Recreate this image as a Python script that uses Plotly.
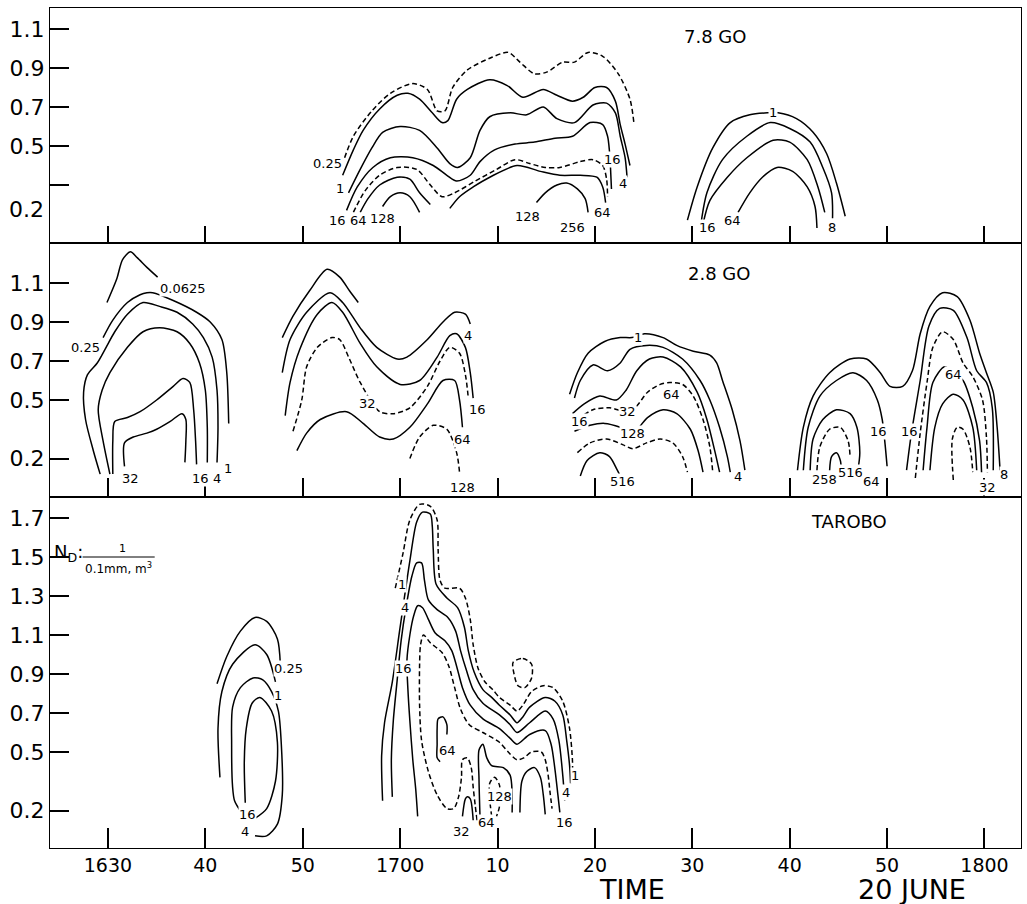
import plotly.graph_objects as go

# ---------------- axes data ----------------
# time = minutes after 16:00 (20 June); drop diameter D in mm
x_tickvals = [30, 40, 50, 60, 70, 80, 90, 100, 110, 120]
x_ticktext = ["1630", "40", "50", "1700", "10", "20", "30", "40", "50", "1800"]
y1_tickvals = [1.1, 0.9, 0.7, 0.5, 0.3]
y1_ticktext = ["1.1", "0.9", "0.7", "0.5", " "]
y2_tickvals = [1.1, 0.9, 0.7, 0.5, 0.2]
y2_ticktext = ["1.1", "0.9", "0.7", "0.5", "0.2"]
y3_tickvals = [1.7, 1.5, 1.3, 1.1, 0.9, 0.7, 0.5, 0.2]
y3_ticktext = ["1.7", "1.5", "1.3", "1.1", "0.9", "0.7", "0.5", "0.2"]

# ---------------- 7.8 GO contours (time, D) ----------------
g78_025 = [(54.3,0.44),(55.2,0.55),(57.1,0.68),(59.0,0.77),(61.3,0.82),(62.8,0.79),(63.8,0.68),(64.6,0.68),(65.4,0.80),(66.9,0.89),(69.2,0.95),(71.1,0.98),(72.3,0.93),(73.8,0.87),(75.1,0.88),(76.7,0.93),(77.9,0.93),(79.3,0.98),(80.8,0.96),(82.4,0.87),(83.6,0.74),(84.0,0.62)]
g78_1 = [(54.1,0.35),(55.2,0.48),(56.2,0.58),(57.9,0.69),(59.7,0.76),(60.8,0.77),(62.0,0.74),(63.3,0.67),(64.3,0.62),(64.9,0.63),(65.8,0.74),(66.9,0.79),(69.2,0.84),(71.0,0.81),(72.6,0.75),(74.7,0.79),(76.1,0.76),(77.7,0.73),(78.8,0.75),(80.0,0.80),(81.2,0.80),(82.1,0.73),(82.6,0.61),(83.1,0.51),(83.6,0.40)]
g78_4 = [(54.7,0.26),(55.9,0.38),(57.1,0.49),(58.2,0.57),(60.0,0.60),(62.0,0.58),(63.8,0.49),(65.1,0.41),(65.9,0.39),(67.2,0.44),(68.2,0.58),(69.2,0.65),(71.3,0.67),(73.0,0.66),(74.7,0.70),(76.1,0.64),(77.9,0.62),(79.8,0.71),(81.2,0.72),(82.1,0.67),(82.6,0.55),(83.1,0.44),(83.3,0.34)]
g78_16 = [(54.5,0.17),(55.6,0.29),(57.2,0.39),(59.0,0.44),(61.3,0.44),(63.4,0.40),(64.8,0.35),(65.8,0.32),(67.2,0.35),(68.2,0.42),(69.7,0.48),(71.8,0.51),(73.8,0.52),(75.9,0.54),(77.7,0.55),(79.5,0.62),(80.8,0.61),(81.3,0.55),(81.5,0.47),(81.6,0.39),(81.7,0.28)]
g78_32 = [(55.2,0.16),(56.4,0.27),(57.9,0.35),(59.7,0.39),(61.7,0.38),(63.1,0.30),(64.3,0.24),(65.6,0.26),(67.7,0.32),(69.9,0.38),(71.8,0.43),(73.3,0.41),(74.9,0.39),(76.4,0.39),(78.5,0.42),(79.8,0.43),(80.8,0.40),(81.2,0.33),(81.3,0.24)]
g78_64a = [(55.9,0.16),(56.7,0.23),(57.9,0.30),(59.7,0.34),(61.0,0.33),(62.0,0.26),(63.1,0.20)]
g78_128a = [(58.2,0.19),(59.0,0.24),(60.0,0.26),(61.0,0.24),(62.0,0.16)]
g78_64b = [(65.1,0.18),(66.1,0.24),(67.5,0.29),(69.2,0.34),(72.0,0.40),(74.4,0.37),(76.4,0.35),(78.5,0.35),(80.2,0.34),(80.8,0.29),(81.1,0.21)]
g78_256 = [(74.0,0.21),(74.9,0.26),(76.1,0.30),(77.1,0.31),(78.2,0.28),(79.0,0.23),(79.3,0.16)]
g78_r1 = [(89.5,0.12),(90.5,0.29),(92.1,0.49),(93.9,0.62),(95.9,0.66),(97.7,0.67),(98.8,0.67),(100.7,0.64),(102.4,0.57),(103.8,0.46),(104.8,0.31),(105.7,0.14)]
g78_r8 = [(90.8,0.07),(91.5,0.26),(93.1,0.43),(95.6,0.55),(98.0,0.62),(100.0,0.59),(102.1,0.52),(103.4,0.39),(104.3,0.26),(104.4,0.13)]
g78_r16 = [(91.1,0.10),(91.8,0.22),(93.6,0.34),(95.6,0.44),(98.3,0.53),(100.0,0.52),(101.8,0.43),(102.9,0.29),(103.6,0.16)]
g78_r64 = [(94.7,0.16),(95.9,0.26),(97.2,0.34),(98.7,0.39),(100.3,0.37),(101.8,0.29),(102.6,0.19),(102.8,0.08)]
g78_labels = [("0.25",52.5,0.41),("1",53.8,0.28),("16",53.6,0.12),("64",55.7,0.12),("128",58.2,0.13),
              ("128",73.1,0.14),("256",77.7,0.08),("64",80.8,0.16),("16",81.8,0.43),("4",82.9,0.31),
              ("1",98.3,0.67),("16",91.6,0.08),("64",94.1,0.12),("8",104.3,0.08)]

# ---------------- 2.8 GO contours ----------------
g28_l0 = [(29.9,1.00),(30.9,1.12),(31.5,1.22),(32.3,1.26),(33.0,1.23),(34.0,1.18),(35.1,1.13)]
g28_l1 = [(29.5,0.82),(30.5,0.91),(32.0,1.00),(33.3,1.04),(34.0,1.05),(34.6,1.05),(36.7,1.01),(39.1,0.95),(40.5,0.90),(41.7,0.81),(42.2,0.64),(42.4,0.38)]
g28_l2 = [(29.2,0.12),(28.5,0.24),(27.7,0.40),(27.5,0.54),(27.9,0.63),(28.9,0.69),(29.7,0.76),(30.7,0.85),(32.0,0.94),(33.6,1.00),(35.3,0.98),(37.1,0.95),(38.7,0.89),(39.8,0.82),(40.7,0.72),(41.2,0.55),(41.3,0.36),(41.2,0.18)]
g28_l3 = [(30.2,0.12),(29.5,0.29),(29.0,0.45),(29.4,0.55),(30.2,0.64),(32.0,0.77),(33.6,0.85),(35.3,0.87),(37.1,0.85),(38.4,0.79),(39.4,0.69),(40.0,0.55),(40.2,0.36),(40.2,0.18)]
g28_l4 = [(30.5,0.12),(30.5,0.29),(30.7,0.39),(32.0,0.41),(33.3,0.44),(35.0,0.50),(36.7,0.57),(37.7,0.61),(38.4,0.59),(38.8,0.45),(39.0,0.29),(39.1,0.17)]
g28_l5 = [(31.7,0.16),(31.7,0.28),(32.6,0.31),(34.0,0.33),(35.0,0.35),(36.4,0.39),(37.6,0.43),(38.0,0.40),(38.0,0.29),(37.9,0.18)]
g28_m1 = [(47.9,0.82),(49.0,0.93),(50.7,1.06),(52.5,1.17),(53.8,1.13),(54.8,1.06),(55.7,1.00)]
g28_m2 = [(47.9,0.64),(48.7,0.81),(50.4,0.95),(52.8,1.05),(54.1,1.00),(55.9,0.87),(57.6,0.77),(59.7,0.71),(60.7,0.72),(62.8,0.81),(64.4,0.90),(65.6,0.95),(66.7,0.94),(67.2,0.89)]
g28_m3 = [(48.2,0.42),(48.7,0.59),(49.7,0.76),(51.5,0.94),(53.0,1.00),(54.1,0.95),(55.9,0.79),(57.6,0.67),(60.0,0.58),(62.0,0.60),(63.8,0.72),(65.1,0.83),(65.8,0.84),(66.7,0.77),(67.2,0.64),(67.5,0.51)]
g28_m4 = [(49.0,0.34),(49.9,0.50),(50.4,0.67),(51.5,0.77),(53.0,0.82),(53.8,0.81),(54.8,0.71),(55.9,0.59),(57.9,0.44),(59.3,0.43),(61.0,0.46),(62.8,0.57),(64.1,0.70),(65.1,0.77),(66.1,0.74),(66.7,0.63),(67.0,0.51)]
g28_m5 = [(49.4,0.24),(50.4,0.33),(51.8,0.40),(54.5,0.44),(56.2,0.38),(57.9,0.31),(59.3,0.30),(61.0,0.36),(62.8,0.48),(64.4,0.60),(65.6,0.60),(66.1,0.50),(66.4,0.36)]
g28_m6 = [(61.0,0.20),(62.0,0.31),(63.4,0.37),(64.8,0.35),(65.8,0.23),(66.1,0.13)]
g28_ra = [(77.4,0.53),(78.2,0.64),(79.3,0.74),(81.0,0.80),(82.6,0.82),(83.8,0.82),(85.1,0.84),(87.0,0.82),(88.4,0.78),(90.1,0.75),(91.8,0.73),(92.5,0.69),(93.1,0.60),(94.1,0.45),(94.9,0.29),(95.4,0.14)]
g28_rb = [(77.9,0.51),(78.5,0.60),(79.8,0.68),(81.3,0.65),(82.6,0.69),(83.6,0.76),(85.3,0.78),(87.0,0.77),(89.0,0.71),(90.8,0.60),(91.8,0.50),(92.8,0.36),(93.6,0.21),(93.9,0.13)]
g28_rc = [(77.7,0.43),(78.9,0.48),(80.5,0.52),(82.2,0.50),(83.2,0.55),(84.3,0.65),(85.6,0.71),(87.0,0.72),(88.8,0.67),(90.5,0.54),(91.5,0.40),(92.3,0.24),(92.8,0.13)]
g28_rd = [(78.2,0.40),(79.8,0.45),(81.5,0.46),(83.3,0.44),(84.3,0.47),(85.4,0.54),(86.7,0.58),(87.7,0.59),(89.0,0.58),(90.1,0.52),(91.1,0.40),(91.8,0.26),(92.1,0.13)]
g28_re = [(77.9,0.34),(79.5,0.37),(81.0,0.38),(82.6,0.36),(83.9,0.33),(85.4,0.41),(87.0,0.45),(88.4,0.43),(89.8,0.35),(90.6,0.24),(91.1,0.13)]
g28_rf = [(78.2,0.23),(79.5,0.28),(81.2,0.30),(82.9,0.27),(83.9,0.25),(85.3,0.28),(86.7,0.30),(88.0,0.28),(89.0,0.21),(89.5,0.13)]
g28_rg = [(78.5,0.11),(79.2,0.19),(80.5,0.23),(81.5,0.21),(82.3,0.14),(82.6,0.11)]
g28_s1 = [(100.8,0.14),(101.4,0.36),(102.4,0.52),(104.1,0.64),(106.2,0.71),(107.9,0.71),(109.3,0.64),(110.3,0.57),(111.6,0.57),(112.6,0.65),(113.4,0.84),(114.4,0.98),(115.7,1.05),(117.2,1.03),(118.5,0.91),(119.5,0.74),(120.2,0.64),(120.9,0.54),(121.3,0.36),(121.6,0.14)]
g28_s2 = [(101.4,0.14),(101.9,0.36),(103.1,0.52),(104.8,0.60),(106.5,0.64),(107.9,0.60),(109.0,0.50),(109.5,0.40),(109.8,0.27),(110.0,0.16)]
g28_s3 = [(102.1,0.14),(102.4,0.30),(103.4,0.40),(104.8,0.45),(106.2,0.43),(106.9,0.36),(107.2,0.23),(107.0,0.14)]
g28_s4 = [(102.8,0.14),(103.1,0.26),(104.1,0.35),(105.2,0.36),(106.0,0.29),(106.2,0.21)]
g28_s5 = [(104.1,0.14),(104.3,0.21),(104.8,0.23),(105.2,0.19),(105.3,0.14)]
g28_h1 = [(112.0,0.14),(112.5,0.33),(113.4,0.60),(114.3,0.88),(115.4,0.97),(116.8,0.96),(118.2,0.82),(119.2,0.65),(120.2,0.59),(120.8,0.46),(120.9,0.14)]
g28_h2 = [(112.9,0.10),(113.4,0.33),(114.1,0.59),(114.7,0.77),(115.7,0.85),(116.8,0.81),(117.8,0.69),(118.8,0.62),(119.8,0.50),(120.2,0.31),(120.3,0.13)]
g28_h3 = [(113.7,0.14),(114.1,0.36),(114.7,0.59),(115.9,0.67),(116.8,0.64),(117.8,0.60),(118.8,0.46),(119.5,0.29),(119.7,0.13)]
g28_h4 = [(114.4,0.14),(114.9,0.36),(115.7,0.48),(116.8,0.53),(117.8,0.50),(118.8,0.36),(119.2,0.14)]
g28_h5 = [(116.8,0.09),(116.7,0.30),(117.2,0.36),(117.8,0.35),(118.5,0.26),(118.8,0.13)]
g28_labels = [("0.0625",37.7,1.07),("0.25",27.7,0.77),("32",32.3,0.10),("16",39.5,0.10),("4",41.2,0.10),("1",42.3,0.15),
              ("4",67.0,0.83),("16",67.9,0.45),("32",56.6,0.48),("64",66.4,0.30),("128",66.4,0.05),
              ("1",84.4,0.82),("16",78.4,0.39),("32",83.3,0.44),("64",87.9,0.53),("128",83.9,0.33),("516",82.8,0.08),("4",94.7,0.11),
              ("16",109.1,0.34),("258",103.6,0.09),("516",106.2,0.13),("64",108.4,0.08),
              ("16",112.3,0.34),("64",116.8,0.63),("32",120.3,0.05),("8",122.0,0.12)]

# ---------------- TAROBO contours ----------------
tb_e1 = [(41.2,0.85),(42.2,0.99),(43.6,1.12),(45.1,1.19),(46.3,1.17),(47.4,1.08),(47.7,0.95)]
tb_e2 = [(41.5,0.37),(41.3,0.62),(41.7,0.81),(42.8,0.95),(45.1,1.05),(46.3,1.00),(47.2,0.86)]
tb_e3 = [(43.7,0.19),(43.0,0.25),(42.8,0.32),(42.7,0.54),(42.8,0.73),(43.6,0.83),(44.9,0.88),(45.9,0.87),(46.8,0.81),(47.5,0.71),(47.8,0.54),(47.9,0.28),(47.4,0.13),(46.3,0.07),(45.1,0.07)]
tb_e4 = [(45.1,0.16),(46.3,0.21),(47.2,0.35),(47.4,0.55),(46.8,0.71),(45.6,0.78),(44.8,0.75),(44.2,0.62),(44.0,0.45),(44.1,0.24)]
tb_d1 = [(59.5,1.34),(60.3,1.52),(61.0,1.69),(62.0,1.77),(63.1,1.76),(63.8,1.69),(63.9,1.54),(64.1,1.38),(64.6,1.34),(66.1,1.34),(66.7,1.29),(67.2,1.18),(67.5,1.05),(68.0,0.93),(68.7,0.86),(69.5,0.82),(70.2,0.78),(71.3,0.74),(72.0,0.71),(72.6,0.74),(73.5,0.81),(74.7,0.84),(75.7,0.83),(76.7,0.76),(77.4,0.62),(77.7,0.45),(77.7,0.40)]
tb_a = [(58.2,0.25),(58.1,0.48),(58.4,0.65),(59.2,0.86),(60.0,1.14),(61.0,1.48),(61.7,1.68),(62.3,1.73),(63.1,1.72),(63.3,1.66),(63.4,1.54),(63.7,1.36),(64.8,1.29),(65.9,1.24),(66.6,1.14),(67.0,1.02),(67.6,0.91),(68.5,0.82),(69.4,0.78),(70.2,0.74),(71.3,0.69),(72.0,0.65),(72.6,0.68),(73.3,0.73),(74.9,0.78),(75.9,0.76),(76.7,0.69),(77.1,0.56),(77.4,0.43),(77.5,0.34)]
tb_b = [(59.2,0.27),(59.1,0.46),(59.3,0.66),(59.7,0.87),(60.1,1.07),(60.6,1.24),(61.2,1.40),(61.7,1.47),(62.2,1.47),(62.5,1.38),(62.9,1.28),(63.8,1.23),(64.9,1.19),(65.7,1.12),(66.2,1.02),(66.8,0.92),(67.5,0.82),(68.5,0.75),(70.2,0.69),(71.3,0.64),(72.0,0.60),(73.3,0.65),(74.9,0.71),(75.7,0.67),(76.3,0.56),(76.7,0.38),(76.9,0.25)]
tb_c = [(61.8,0.17),(61.6,0.31),(61.3,0.46),(61.0,0.66),(60.8,0.82),(60.7,0.97),(61.0,1.10),(61.4,1.20),(61.8,1.25),(62.3,1.24),(62.9,1.18),(63.6,1.11),(64.6,1.07),(65.3,1.02),(65.8,0.94),(66.4,0.83),(67.2,0.74),(68.5,0.67),(70.2,0.62),(71.3,0.57),(72.0,0.54),(73.3,0.59),(74.9,0.61),(75.5,0.54),(75.9,0.41),(76.2,0.28),(76.4,0.19)]
tb_d2 = [(67.9,0.15),(67.7,0.23),(67.5,0.32),(67.3,0.42),(66.9,0.47),(66.4,0.46),(66.3,0.37),(66.0,0.27),(65.5,0.21),(64.8,0.21),(63.8,0.28),(62.9,0.40),(62.2,0.56),(62.0,0.74),(62.0,0.95),(62.1,1.05),(62.4,1.10),(63.1,1.06),(64.3,1.01),(65.0,0.94),(65.6,0.83),(66.2,0.72),(67.1,0.64),(68.5,0.60),(70.2,0.55),(71.1,0.50),(72.0,0.46),(72.7,0.47),(73.5,0.50),(74.5,0.50),(74.9,0.46),(75.2,0.38),(75.4,0.29),(75.6,0.21)]
tb_ring = [(71.6,0.96),(72.6,0.98),(73.5,0.95),(73.5,0.88),(72.8,0.83),(72.1,0.84),(71.7,0.90),(71.6,0.96)]
tb_hook64 = [(64.8,0.59),(64.8,0.64),(64.4,0.68),(63.9,0.67),(63.8,0.62),(63.8,0.54),(63.8,0.47),(64.1,0.45)]
tb_arch32 = [(66.4,0.17),(66.7,0.26),(66.9,0.27),(67.2,0.26),(67.5,0.15)]
tb_arch64 = [(68.2,0.17),(68.1,0.36),(68.1,0.51),(68.5,0.54),(68.9,0.47),(69.4,0.43),(70.6,0.42),(71.3,0.38),(71.5,0.29),(71.5,0.19)]
tb_loop128 = [(69.4,0.17),(69.2,0.26),(69.2,0.34),(69.7,0.37),(70.2,0.33),(70.2,0.22),(69.9,0.17)]
tb_arch16 = [(72.3,0.19),(72.5,0.35),(73.0,0.40),(73.8,0.42),(74.4,0.37),(74.7,0.28),(74.9,0.18)]
tb_labels = [("0.25",48.5,0.93),("1",47.5,0.79),("16",44.3,0.18),("4",44.1,0.09),
             ("1",60.2,1.36),("4",60.5,1.24),("16",60.3,0.93),("64",64.9,0.51),("32",66.3,0.09),
             ("64",68.9,0.14),("128",70.2,0.27),("1",78.0,0.38),("4",77.0,0.29),("16",76.9,0.14)]

# panel -> list of (points, dashed)
panel_curves = {
    1: [(g78_025, True), (g78_1, False), (g78_4, False), (g78_16, False), (g78_32, True),
        (g78_64a, False), (g78_128a, False), (g78_64b, False), (g78_256, False),
        (g78_r1, False), (g78_r8, False), (g78_r16, False), (g78_r64, False)],
    2: [(g28_l0, False), (g28_l1, False), (g28_l2, False), (g28_l3, False), (g28_l4, False), (g28_l5, False),
        (g28_m1, False), (g28_m2, False), (g28_m3, False), (g28_m4, True), (g28_m5, False), (g28_m6, True),
        (g28_ra, False), (g28_rb, False), (g28_rc, False), (g28_rd, True), (g28_re, False), (g28_rf, True), (g28_rg, False),
        (g28_s1, False), (g28_s2, False), (g28_s3, False), (g28_s4, True), (g28_s5, False),
        (g28_h1, False), (g28_h2, True), (g28_h3, False), (g28_h4, False), (g28_h5, True)],
    3: [(tb_e1, False), (tb_e2, False), (tb_e3, False), (tb_e4, False),
        (tb_d1, True), (tb_a, False), (tb_b, False), (tb_c, False), (tb_d2, True), (tb_ring, True),
        (tb_hook64, False), (tb_arch32, False), (tb_arch64, False), (tb_loop128, True), (tb_arch16, False)],
}
panel_labels = {1: g78_labels, 2: g28_labels, 3: tb_labels}
panel_titles = {1: ("7.8 GO", 92.3, 1.06), 2: ("2.8 GO", 92.7, 1.15), 3: ("TAROBO", 106.1, 1.68)}
axref = {1: ("x", "y"), 2: ("x2", "y2"), 3: ("x3", "y3")}

FONT = "DejaVu Sans, Liberation Sans, sans-serif"

fig = go.Figure()
for p, curves in panel_curves.items():
    xr, yr = axref[p]
    for pts, dashed in curves:
        fig.add_trace(go.Scatter(
            x=[q[0] for q in pts], y=[q[1] for q in pts], mode="lines",
            line=dict(color="black", width=1.5, dash="5px,3px" if dashed else "solid",
                      shape="spline", smoothing=0.8),
            xaxis=xr, yaxis=yr, hoverinfo="skip", showlegend=False))

annotations = []
for p, labs in panel_labels.items():
    xr, yr = axref[p]
    for txt, t, d in labs:
        annotations.append(dict(text=txt, x=t, y=d, xref=xr, yref=yr, showarrow=False,
                                xanchor="center", yanchor="middle",
                                font=dict(family=FONT, size=13, color="black"),
                                bgcolor="white", borderpad=0))
for p, (txt, t, d) in panel_titles.items():
    xr, yr = axref[p]
    annotations.append(dict(text=txt, x=t, y=d, xref=xr, yref=yr, showarrow=False,
                            xanchor="center", yanchor="middle",
                            font=dict(family=FONT, size=18, color="black")))
# extra "0.2" label of the top panel
annotations.append(dict(text="0.2", x=46 / 1027, xref="paper", xanchor="right", y=0.172, yref="y",
                        yanchor="middle", showarrow=False, font=dict(family=FONT, size=22, color="black")))
# N_D legend text in TAROBO panel
annotations.append(dict(text="N<sub>D</sub>:", x=26.0, y=1.52, xref="x3", yref="y3", showarrow=False,
                        xanchor="center", yanchor="middle", font=dict(family=FONT, size=18, color="black")))
annotations.append(dict(text="1", x=31.5, y=1.545, xref="x3", yref="y3", showarrow=False,
                        xanchor="center", yanchor="middle", font=dict(family=FONT, size=11, color="black")))
annotations.append(dict(text="0.1mm, m<sup>3</sup>", x=31.1, y=1.445, xref="x3", yref="y3", showarrow=False,
                        xanchor="center", yanchor="middle", font=dict(family=FONT, size=12, color="black")))
# axis words
annotations.append(dict(text="TIME", x=632 / 1027, y=1 - 889 / 904, xref="paper", yref="paper",
                        xanchor="center", yanchor="middle",
                        showarrow=False, font=dict(family=FONT, size=27, color="black")))
annotations.append(dict(text="20 JUNE", x=912 / 1027, y=1 - 889 / 904, xref="paper", yref="paper",
                        xanchor="center", yanchor="middle",
                        showarrow=False, font=dict(family=FONT, size=27, color="black")))

shapes = [dict(type="line", xref="x3", yref="y3", x0=27.4, x1=34.8, y0=1.50, y1=1.50,
               line=dict(color="black", width=1))]

xdom = [50 / 1027, 1021 / 1027]
xr_range = [24.05, 123.75]


def xaxis(ticklen, labels):
    return dict(domain=xdom, range=xr_range, tickmode="array", tickvals=x_tickvals,
                ticktext=x_ticktext, showticklabels=labels, ticks="inside", ticklen=ticklen,
                tickwidth=1.5, tickcolor="black", showline=True, linecolor="black", linewidth=1.2,
                mirror=True, showgrid=False, zeroline=False,
                tickfont=dict(family=FONT, size=19, color="black"))


def yaxis(dom, rng, tv, tt, anchor):
    return dict(domain=dom, range=rng, tickmode="array", tickvals=tv, ticktext=tt,
                ticks="inside", ticklen=19, tickwidth=1.5, tickcolor="black", showline=True,
                linecolor="black", linewidth=1.2, mirror=True, showgrid=False, zeroline=False,
                anchor=anchor, tickfont=dict(family=FONT, size=22, color="black"))


fig.update_layout(
    width=1027, height=904, autosize=False,
    margin=dict(l=0, r=0, t=0, b=0),
    paper_bgcolor="white", plot_bgcolor="white",
    xaxis=dict(xaxis(17, False), anchor="y"),
    xaxis2=dict(xaxis(19, False), anchor="y2"),
    xaxis3=dict(xaxis(20, True), anchor="y3"),
    yaxis=yaxis([1 - 243 / 904, 1 - 8 / 904], [0.0026, 1.2077], y1_tickvals, y1_ticktext, "x"),
    yaxis2=yaxis([1 - 497 / 904, 1 - 243 / 904], [0.0026, 1.3051], y2_tickvals, y2_ticktext, "x2"),
    yaxis3=yaxis([1 - 848 / 904, 1 - 497 / 904], [0.0077, 1.8077], y3_tickvals, y3_ticktext, "x3"),
    annotations=annotations, shapes=shapes,
)

fig.write_html("out.html", config={"displayModeBar": False},
               post_script="document.body.style.margin='0';")
